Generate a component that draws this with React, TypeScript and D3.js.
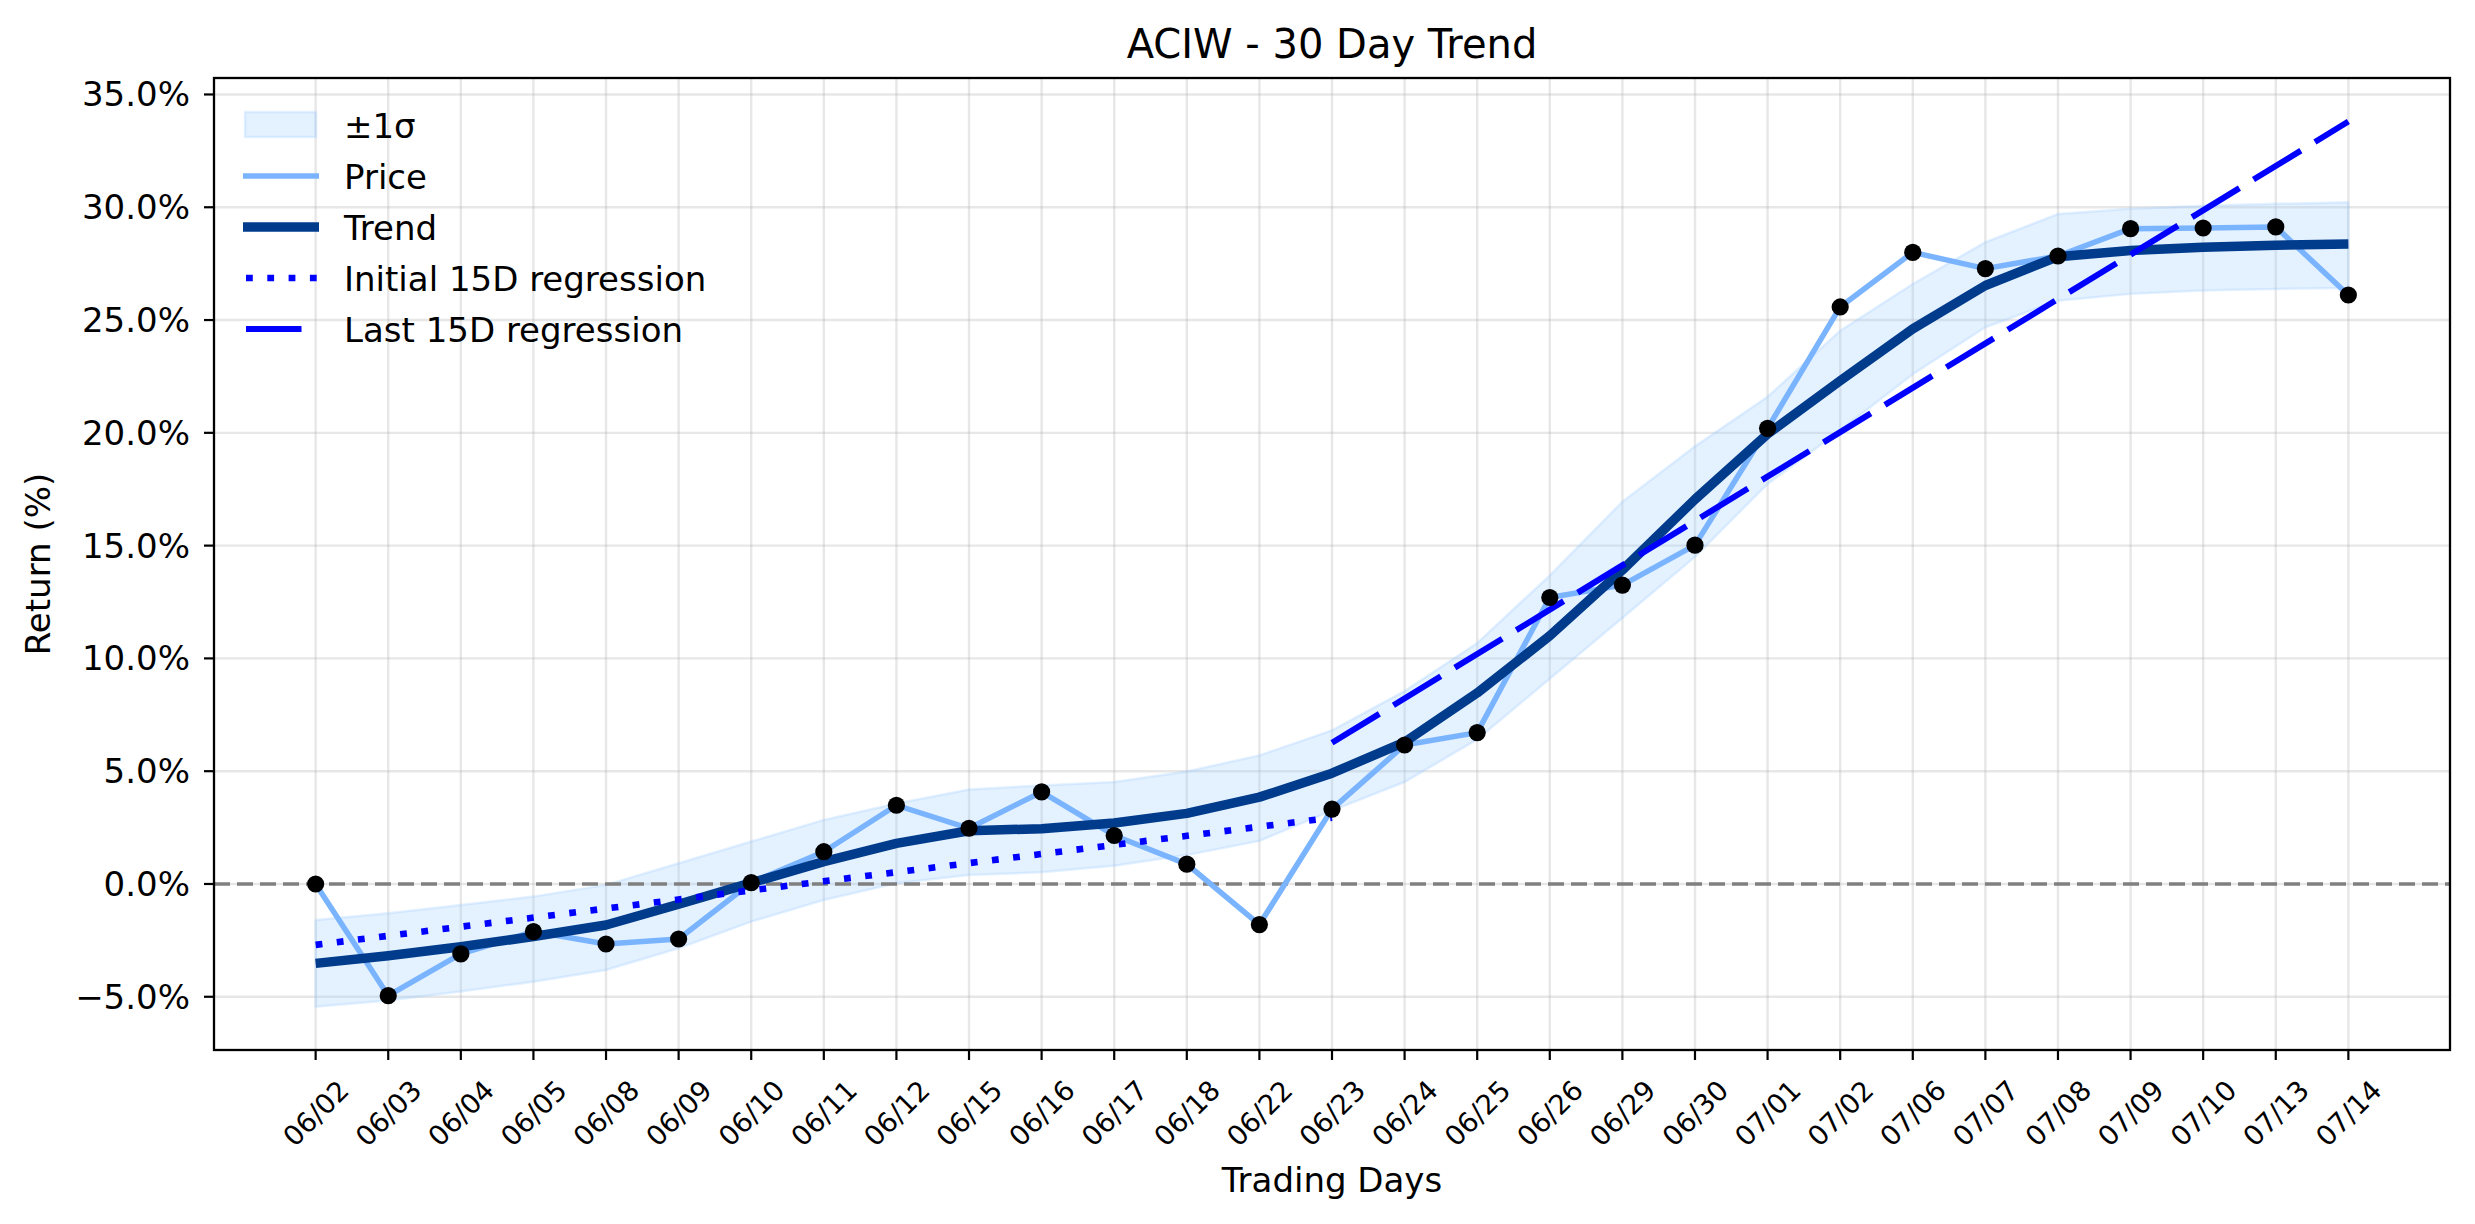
import React from "react";
import * as d3 from "d3";

const dates = ["06/02","06/03","06/04","06/05","06/08","06/09","06/10","06/11","06/12","06/15","06/16","06/17","06/18","06/22","06/23","06/24","06/25","06/26","06/29","06/30","07/01","07/02","07/06","07/07","07/08","07/09","07/10","07/13","07/14"];
const price = [0.0,-4.95,-3.10,-2.11,-2.66,-2.44,0.06,1.43,3.49,2.47,4.08,2.15,0.88,-1.80,3.32,6.16,6.71,12.70,13.25,15.02,20.20,25.58,28.00,27.28,27.84,29.05,29.08,29.13,26.11];
const trend = [-3.52,-3.18,-2.78,-2.33,-1.82,-0.90,0.05,0.99,1.80,2.36,2.45,2.70,3.13,3.85,4.91,6.29,8.47,11.00,13.92,17.05,19.95,22.31,24.61,26.53,27.81,28.08,28.23,28.32,28.37];
const bandUpper = [-1.60,-1.30,-0.93,-0.56,-0.04,0.92,1.88,2.84,3.57,4.19,4.37,4.52,4.99,5.70,6.81,8.55,10.68,13.68,16.95,19.40,21.60,24.53,26.60,28.45,29.70,29.93,30.07,30.15,30.22];
const bandLower = [-5.44,-5.17,-4.77,-4.33,-3.81,-2.85,-1.67,-0.71,0.03,0.40,0.52,0.81,1.28,1.91,3.25,4.52,6.41,9.10,11.79,14.50,17.73,20.10,22.60,24.68,25.86,26.16,26.31,26.38,26.42];
const initialRegIdx = [0, 14];
const initialRegVal = [-2.70, 2.94];
const lastRegIdx = [14, 28];
const lastRegVal = [6.26, 33.80];
const yTicks = [-5, 0, 5, 10, 15, 20, 25, 30, 35];

const W = 2475, H = 1224;
const L = 214, R = 2450, T = 78, B = 1050;
const FONT = "'DejaVu Sans', sans-serif";

export default function App() {
  const x = d3.scaleLinear().domain([-1.4, dates.length - 1 + 1.4]).range([L, R]);
  const y = d3.scaleLinear().domain([-7.36, 35.73]).range([B, T]);
  const idx = dates.map((_, i) => i);

  const line = d3.line<[number, number]>().x(d => x(d[0])).y(d => y(d[1]));
  const area = d3.area<number>().x(i => x(i)).y0(i => y(bandLower[i])).y1(i => y(bandUpper[i]));

  const pricePath = line(idx.map(i => [i, price[i]] as [number, number]))!;
  const trendPath = line(idx.map(i => [i, trend[i]] as [number, number]))!;
  const initPath = line(initialRegIdx.map((i, k) => [i, initialRegVal[k]] as [number, number]))!;
  const lastPath = line(lastRegIdx.map((i, k) => [i, lastRegVal[k]] as [number, number]))!;

  const lx0 = 243, lx1 = 319, ltx = 344;
  const rows = [125, 176, 227, 278, 329];

  return (
    <svg width={W} height={H} style={{ position: "absolute", left: 0, top: 0, background: "#fff" }} fontFamily={FONT}>
      <rect x={0} y={0} width={W} height={H} fill="#fff" />
      <defs>
        <clipPath id="plot"><rect x={L} y={T} width={R - L} height={B - T} /></clipPath>
      </defs>
      {/* grid */}
      <g stroke="#b0b0b0" strokeOpacity={0.3} strokeWidth={2.4}>
        {idx.map(i => <line key={"gx" + i} x1={x(i)} x2={x(i)} y1={T} y2={B} />)}
        {yTicks.map(t => <line key={"gy" + t} x1={L} x2={R} y1={y(t)} y2={y(t)} />)}
      </g>
      <g clipPath="url(#plot)">
        <path d={area(idx)!} fill="#9ccaff" fillOpacity={0.27} stroke="#9ccaff" strokeOpacity={0.27} strokeWidth={2.5} />
        <line x1={L} x2={R} y1={y(0)} y2={y(0)} stroke="#808080" strokeWidth={3.6} strokeDasharray="16 7" />
        <path d={pricePath} fill="none" stroke="#7ab4ff" strokeWidth={5.5} strokeLinejoin="round" />
        <path d={trendPath} fill="none" stroke="#003b8c" strokeWidth={9.5} strokeLinejoin="round" />
        <path d={initPath} fill="none" stroke="#0000ff" strokeWidth={6.6} strokeDasharray="6.8 14.5" />
        <path d={lastPath} fill="none" stroke="#0000ff" strokeWidth={6} strokeDasharray="55.5 16.5" />
        {idx.map(i => <circle key={"p" + i} cx={x(i)} cy={y(price[i])} r={8.6} fill="#000" />)}
      </g>
      {/* spines */}
      <rect x={L} y={T} width={R - L} height={B - T} fill="none" stroke="#000" strokeWidth={2.3} />
      {/* y ticks */}
      {yTicks.map(t => (
        <g key={"yt" + t}>
          <line x1={L - 10} x2={L} y1={y(t)} y2={y(t)} stroke="#000" strokeWidth={2.2} />
          <text x={190} y={y(t)} textAnchor="end" dominantBaseline="central" fontSize={34}>
            {(t < 0 ? "\u2212" : "") + Math.abs(t).toFixed(1) + "%"}
          </text>
        </g>
      ))}
      {/* x ticks */}
      {dates.map((d, i) => (
        <g key={"xt" + i}>
          <line x1={x(i)} x2={x(i)} y1={B} y2={B + 10} stroke="#000" strokeWidth={2.2} />
          <text x={x(i)} y={1113} textAnchor="middle" dominantBaseline="central" fontSize={27.5}
            transform={`rotate(-45, ${x(i)}, 1113)`}>{d}</text>
        </g>
      ))}
      {/* labels */}
      <text x={(L + R) / 2} y={58} textAnchor="middle" fontSize={40}>ACIW - 30 Day Trend</text>
      <text x={(L + R) / 2} y={1192} textAnchor="middle" fontSize={34}>Trading Days</text>
      <text x={50} y={(T + B) / 2} textAnchor="middle" fontSize={34} transform={`rotate(-90, 50, ${(T + B) / 2})`}>Return (%)</text>
      {/* legend */}
      <rect x={245} y={112} width={71} height={25} fill="#9ccaff" fillOpacity={0.27} stroke="#9ccaff" strokeOpacity={0.27} strokeWidth={2.5} />
      <line x1={lx0} x2={lx1} y1={rows[1]} y2={rows[1]} stroke="#7ab4ff" strokeWidth={5.5} />
      <line x1={lx0} x2={lx1} y1={rows[2]} y2={rows[2]} stroke="#003b8c" strokeWidth={9.5} />
      <line x1={lx0 + 3} x2={lx1} y1={rows[3]} y2={rows[3]} stroke="#0000ff" strokeWidth={6.6} strokeDasharray="6.8 14.5" />
      <line x1={lx0 + 3} x2={lx1} y1={rows[4]} y2={rows[4]} stroke="#0000ff" strokeWidth={6} strokeDasharray="55.5 30" />
      {["\u00B11\u03C3", "Price", "Trend", "Initial 15D regression", "Last 15D regression"].map((s, k) => (
        <text key={"lg" + k} x={ltx} y={rows[k] + 12.5} fontSize={34}>{s}</text>
      ))}
    </svg>
  );
}
